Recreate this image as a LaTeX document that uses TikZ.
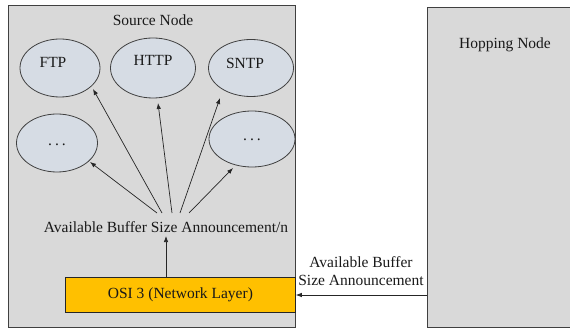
\documentclass[tikz,border=0pt]{standalone}
\usepackage{fontspec}
\setmainfont{Liberation Serif}
\usetikzlibrary{arrows.meta}
\definecolor{boxgray}{HTML}{D9D9D9}
\definecolor{ellfill}{HTML}{D6DCE4}
\definecolor{edge}{HTML}{404040}
\definecolor{layer}{HTML}{FFC000}
\begin{document}
\begin{tikzpicture}[x=1pt,y=-1pt,
  every node/.style={font=\fontsize{15.5}{18}\selectfont, text=black!90},
  hostbox/.style={draw=edge, fill=boxgray, line width=0.8pt},
  app/.style={draw=edge, fill=ellfill, line width=0.8pt},
  conn/.style={-{Latex[length=6pt,width=4.5pt]}, line width=0.7pt, draw=black!85},
  lbl/.style={inner sep=0pt}
]
\useasboundingbox (0,0) rectangle (570,331);
\begin{scope}
\clip (0,0) rectangle (570,331);
% host boxes
\draw[hostbox] (8,5) rectangle (295,327);
\draw[hostbox] (427,7) rectangle (580,327);
\end{scope}
\node[lbl] (src) at (153,20) {Source Node};
\node[lbl] (hop) at (505,45) {Hopping Node};

% application ellipses
\draw[app] (60,68) ellipse [x radius=40, y radius=29];
\draw[app] (153,68) ellipse [x radius=42.5, y radius=30];
\draw[app] (251,68) ellipse [x radius=42.5, y radius=28.5];
\draw[app] (57,143) ellipse [x radius=40.5, y radius=29];
\draw[app] (252,139) ellipse [x radius=43, y radius=28];
\coordinate (ftp) at (93,89);
\coordinate (http) at (158,103);
\coordinate (sntp) at (220,98);
\coordinate (dl) at (90,162);
\coordinate (dr) at (233,168);
\node[lbl] (tftp) at (53,62) {FTP};
\node[lbl] (thttp) at (153,60) {HTTP};
\node[lbl] (tsntp) at (245,63) {SNTP};
\node[lbl] (tdl) at (57,145) {.\hspace{3pt}.\hspace{3pt}.};
\node[lbl] (tdr) at (252,140) {.\hspace{3pt}.\hspace{3pt}.};

% announcement label and fan-out
\node[lbl] (ann) at (166,227) {Available Buffer Size Announcement/n};
\coordinate (s1) at (157,213);
\coordinate (s2) at (162,213);
\coordinate (s3) at (172,213);
\coordinate (s4) at (180,213);
\coordinate (s5) at (189,213);
\draw[conn] (s1) -- (dl);
\draw[conn] (s2) -- (ftp);
\draw[conn] (s3) -- (http);
\draw[conn] (s4) -- (sntp);
\draw[conn] (s5) -- (dr);

% network layer
\node[draw=black!85, fill=layer, line width=0.8pt, minimum width=230pt, minimum height=35pt, anchor=north west] (osi) at (65,277) {OSI 3 (Network Layer)};
\coordinate (annb) at (166,236);
\draw[conn] (osi.north -| annb) -- (annb);

% link from hopping node
\coordinate (hopl) at (427,295);
\draw[conn] (hopl) -- (osi.east |- hopl);
\node[lbl, align=center, font=\fontsize{15.5}{18}\selectfont] (link) at (361,271) {Available Buffer\\Size Announcement};
\end{tikzpicture}
\end{document}
